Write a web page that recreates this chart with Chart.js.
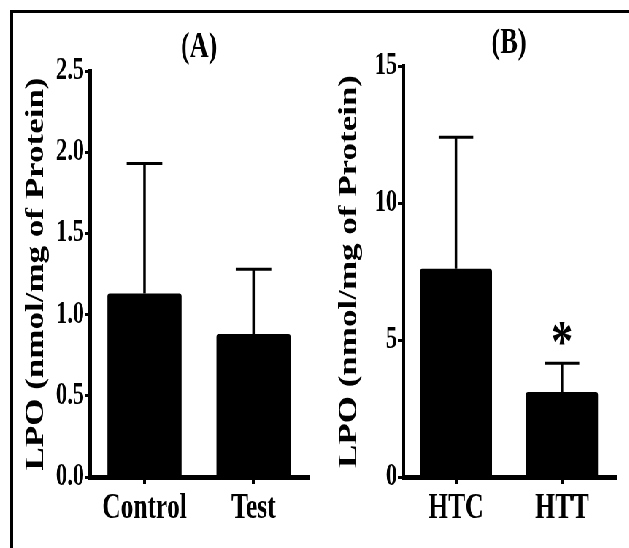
<!DOCTYPE html>
<html>
<head>
<meta charset="utf-8">
<script src="https://cdn.jsdelivr.net/npm/chart.js@4.4.1/dist/chart.umd.min.js"></script>
<style>
  html, body { margin: 0; padding: 0; background: #fff; }
  body { width: 629px; height: 548px; overflow: hidden; position: relative; }
  #frame { position: absolute; left: 10px; top: 10px; width: 640px; height: 560px;
           border-top: 3px solid #000; border-left: 3px solid #000; }
  /* the figure's lettering is narrow, so the whole drawing is squeezed sideways */
  #squeeze { position: absolute; left: 0; top: 0; width: 862px; height: 548px;
             transform: scaleX(0.73); transform-origin: 0 0; }
  #chartA { position: absolute; left: 0; top: 0; }
  #chartB { position: absolute; left: 440px; top: 0; }
</style>
</head>
<body>
<div id="frame"></div>
<div id="squeeze">
  <canvas id="chartA" width="440" height="548"></canvas>
  <canvas id="chartB" width="420" height="548"></canvas>
</div>
<script>
// panel (A)
const groupsA = ['Control', 'Test'];
const meansA = [1.13, 0.88];
const semA = [0.80, 0.40];
const ticksA = [0, 0.5, 1.0, 1.5, 2.0, 2.5];
const tickLabelsA = ['0.0', '0.5', '1.0', '1.5', '2.0', '2.5'];
const marksA = ['', ''];

// panel (B)
const groupsB = ['HTC', 'HTT'];
const meansB = [7.6, 3.1];
const semB = [4.8, 1.05];
const ticksB = [0, 5, 10, 15];
const tickLabelsB = ['0', '5', '10', '15'];
const marksB = ['', '*'];

const yTitle = 'LPO (nmol/mg of Protein)';
const serif = '"Liberation Serif", "Times New Roman", serif';

Chart.defaults.font.family = serif;
Chart.defaults.color = '#000';

// error bars (upper half only) and significance marks
const errorBars = {
    id: 'errorBars',
    afterDatasetsDraw(chart, args, opts) {
        const ctx = chart.ctx;
        const y = chart.scales.y;
        const meta = chart.getDatasetMeta(0);
        ctx.save();
        ctx.strokeStyle = '#000';
        ctx.fillStyle = '#000';
        meta.data.forEach((bar, i) => {
            const top = y.getPixelForValue(opts.means[i] + opts.sem[i]);
            const cap = bar.width * 0.48;
            ctx.lineWidth = 3.5;
            ctx.beginPath();
            ctx.moveTo(bar.x, bar.y);
            ctx.lineTo(bar.x, top);
            ctx.stroke();
            ctx.lineWidth = 3;
            ctx.beginPath();
            ctx.moveTo(bar.x - cap / 2, top);
            ctx.lineTo(bar.x + cap / 2, top);
            ctx.stroke();
            if (opts.marks[i]) {
                ctx.font = 'bold 60px ' + serif;
                ctx.textAlign = 'center';
                ctx.textBaseline = 'alphabetic';
                ctx.fillText(opts.marks[i], bar.x, top - 2);
            }
        });
        ctx.restore();
    }
};

function makePanel(id, p) {
    return new Chart(document.getElementById(id), {
        type: 'bar',
        data: {
            labels: p.groups,
            datasets: [{
                data: p.means,
                backgroundColor: '#000',
                borderWidth: 0,
                borderRadius: 3,
                barPercentage: 0.68,
                categoryPercentage: 1
            }]
        },
        options: {
            responsive: false,
            animation: false,
            devicePixelRatio: 1,
            layout: { padding: { top: p.padTop, right: p.padRight, bottom: 0, left: 0 } },
            plugins: {
                legend: { display: false },
                tooltip: { enabled: false },
                title: {
                    display: true,
                    text: p.title,
                    fullSize: false,
                    color: '#000',
                    font: { size: 36, weight: 'bold' },
                    padding: { top: p.titleTop, bottom: p.titleBottom }
                },
                errorBars: { means: p.means, sem: p.sem, marks: p.marks }
            },
            scales: {
                x: {
                    offset: true,
                    afterFit: s => { s.height = 71; },
                    grid: {
                        offset: false, drawOnChartArea: false, drawTicks: true,
                        tickLength: 7, color: '#000', lineWidth: 4
                    },
                    border: { display: true, color: '#000', width: 5 },
                    ticks: {
                        color: '#000', padding: 4, maxRotation: 0,
                        font: { size: 35, weight: 'bold' }
                    }
                },
                y: {
                    min: 0,
                    max: p.ticks[p.ticks.length - 1],
                    afterFit: s => { s.width = p.axisWidth; },
                    afterBuildTicks: s => { s.ticks = p.ticks.map(v => ({ value: v })); },
                    grid: {
                        drawOnChartArea: false, drawTicks: true,
                        tickLength: 7, color: '#000', lineWidth: 3
                    },
                    border: { display: true, color: '#000', width: 5 },
                    ticks: {
                        color: '#000', padding: 1,
                        font: { size: 31, weight: 'bold' },
                        callback: v => p.tickLabels[p.ticks.indexOf(v)]
                    },
                    title: {
                        display: true,
                        text: yTitle,
                        color: '#000',
                        font: { size: 35, weight: 'bold' },
                        padding: { top: p.yTitlePad, bottom: 0 }
                    }
                }
            }
        },
        plugins: [errorBars]
    });
}

makePanel('chartA', {
    title: '(A)', groups: groupsA, means: meansA, sem: semA, marks: marksA,
    ticks: ticksA, tickLabels: tickLabelsA,
    padTop: 10, padRight: 18, titleTop: 16.4, titleBottom: 1.4,
    axisWidth: 123.3, yTitlePad: 29
});

makePanel('chartB', {
    title: '(B)', groups: groupsB, means: meansB, sem: semB, marks: marksB,
    ticks: ticksB, tickLabels: tickLabelsB,
    padTop: 6, padRight: 17.5, titleTop: 16.4, titleBottom: 0.4,
    axisWidth: 112, yTitlePad: 18
});
</script>
</body>
</html>
